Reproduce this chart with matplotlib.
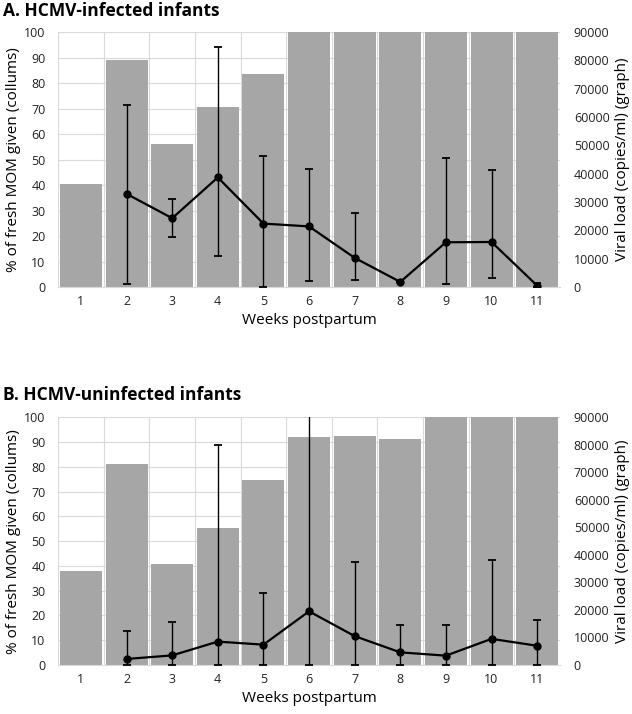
import matplotlib
matplotlib.use("Agg")
import matplotlib.pyplot as plt
import numpy as np

plt.rcParams['font.family'] = ['Open Sans', 'DejaVu Sans']

weeks = [1, 2, 3, 4, 5, 6, 7, 8, 9, 10, 11]
week_labels = [str(w) for w in weeks]

# Panel A: HCMV-infected infants
a_bars = [40.3, 89, 56, 70.5, 83.5, 100, 100, 100, 100, 100, 100]
a_weeks_vl = [2, 3, 4, 5, 6, 7, 8, 9, 10, 11]
a_vl = [32900, 24300, 38700, 22400, 21400, 10300, 1800, 15800, 15900, 500]
a_hi = [64300, 31000, 84600, 46300, 41800, 26200, 1800, 45700, 41300, 1300]
a_lo = [900, 17500, 10800, 0, 2200, 2600, 1800, 900, 3300, 0]

# Panel B: HCMV-uninfected infants
b_bars = [38, 81, 40.8, 55.3, 74.7, 92, 92.6, 91.3, 100, 100, 100]
b_weeks_vl = [2, 3, 4, 5, 6, 7, 8, 9, 10, 11]
b_vl = [2200, 3500, 8500, 7400, 19500, 10500, 4600, 3400, 9500, 7000]
b_hi = [12500, 15500, 80000, 26000, 100000, 37300, 14700, 14600, 38000, 16200]
b_lo = [0, 0, 0, 0, 0, 0, 0, 0, 0, 0]

fig = plt.figure(figsize=(6.32, 7.14), dpi=100)

bar_color = '#a6a6a6'
grid_color = '#d9d9d9'

def panel(rect, bars, wvl, vl, hi, lo, title, title_y):
    ax = fig.add_axes(rect)
    ax.set_xlim(0.5, 11.5)
    ax.set_ylim(0, 100)
    ax.set_yticks(np.arange(0, 101, 10))
    ax.set_xticks(weeks)
    ax.set_xticklabels(week_labels)
    for b in np.arange(0.5, 12, 1):
        ax.axvline(b, color=grid_color, lw=0.8, zorder=0)
    for y in np.arange(10, 101, 10):
        ax.axhline(y, color=grid_color, lw=0.8, zorder=0)
    ax.bar(weeks, bars, width=0.92, color=bar_color, zorder=2)
    for s in ['top', 'left', 'right']:
        ax.spines[s].set_visible(False)
    ax.spines['bottom'].set_color(grid_color)
    ax.tick_params(axis='both', length=0, labelsize=9, colors='#222222')
    ax.tick_params(axis='y', pad=9)
    ax.tick_params(axis='x', pad=6)
    ax.set_ylabel('% of fresh MOM given (collums)', fontsize=11, labelpad=2)
    ax.set_xlabel('Weeks postpartum', fontsize=11, labelpad=3)

    ax2 = ax.twinx()
    ax2.set_ylim(0, 90000)
    ax2.set_yticks(np.arange(0, 90001, 10000))
    for s in ['top', 'left', 'right', 'bottom']:
        ax2.spines[s].set_visible(False)
    ax2.tick_params(axis='y', length=0, labelsize=9, colors='#222222', pad=10)
    vl = np.array(vl)
    yerr = [vl - np.array(lo), np.array(hi) - vl]
    ax2.errorbar(wvl, vl, yerr=yerr, color='black', lw=1.6, elinewidth=1.0,
                 capsize=3, capthick=1.3, marker='o', markersize=5, zorder=5,
                 clip_on=True)
    ax2.set_ylabel('Viral load (copies/ml) (graph)', fontsize=11, labelpad=4)
    fig.text(0.005, title_y, title, fontsize=12.5, fontweight='bold', va='center', ha='left')
    return ax, ax2

panel([0.092, 0.598, 0.794, 0.357], a_bars, a_weeks_vl, a_vl, a_hi, a_lo,
      'A. HCMV-infected infants', 1 - 11 / 714)
panel([0.092, 0.0686, 0.794, 0.347], b_bars, b_weeks_vl, b_vl, b_hi, b_lo,
      'B. HCMV-uninfected infants', 1 - 395 / 714)

fig.savefig('out.png', dpi=100)
